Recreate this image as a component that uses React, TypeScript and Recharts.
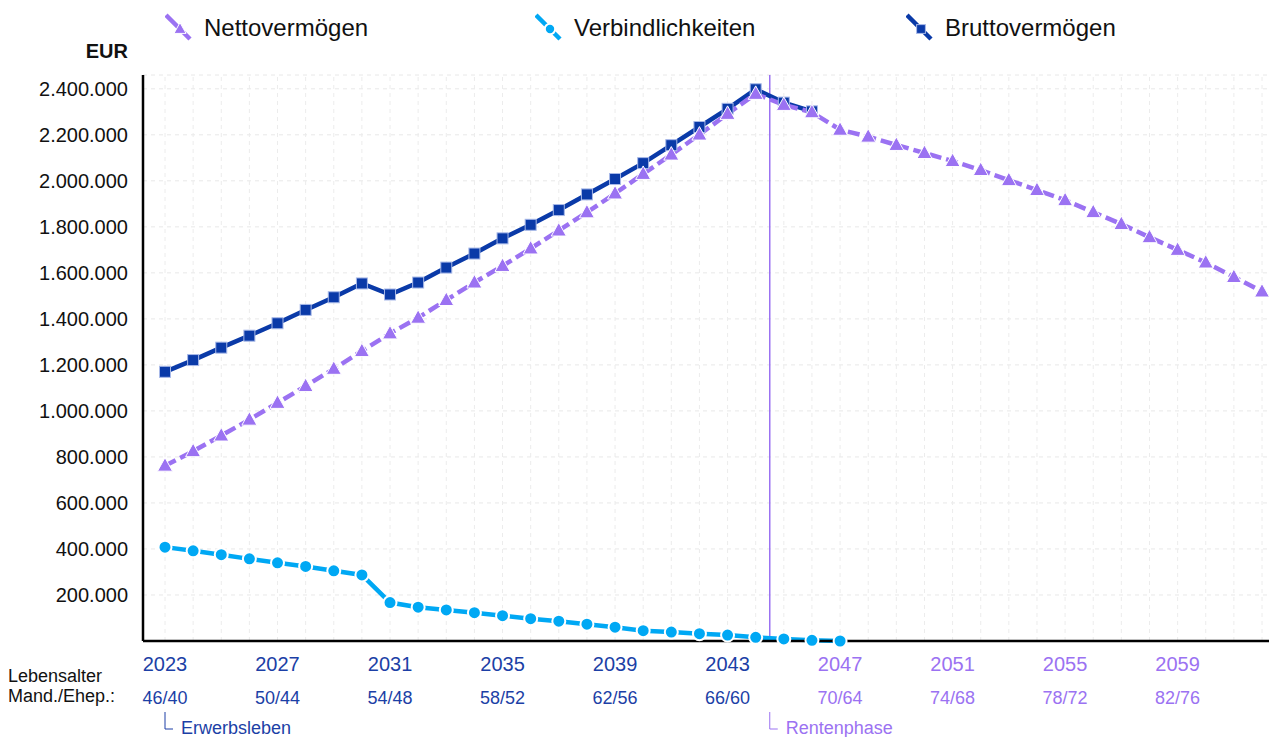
import React from "react";
import { CartesianGrid, Line, LineChart, ReferenceLine, XAxis, YAxis } from "recharts";

const years = [
  2023, 2024, 2025, 2026, 2027, 2028, 2029, 2030, 2031, 2032, 2033, 2034, 2035, 2036, 2037, 2038, 2039, 2040, 2041, 2042,
  2043, 2044, 2045, 2046, 2047, 2048, 2049, 2050, 2051, 2052, 2053, 2054, 2055, 2056, 2057, 2058, 2059, 2060, 2061, 2062,
];

// Werte in Tsd. EUR
const netto = [
  762, 825, 893, 962, 1035, 1108, 1183, 1260, 1337, 1405, 1482, 1558, 1630, 1706, 1784, 1863, 1945, 2030, 2114, 2201,
  2291, 2378, 2330, 2298, 2222, 2192, 2156, 2121, 2086, 2047, 2003, 1960, 1916, 1864, 1812, 1755, 1700, 1645, 1582, 1519,
];

const verbindlichkeiten = [
  408, 392, 375, 357, 340, 324, 305, 287, 167, 147, 135, 123, 110, 97, 86, 73, 60, 45, 39, 32, 26, 16, 9, 3, 0,
];

const brutto = [
  1170, 1221, 1275, 1327, 1381, 1439, 1494, 1554, 1506, 1558, 1623, 1684, 1750, 1809, 1873, 1941, 2008, 2077, 2155, 2234,
  2313, 2398, 2340, 2302,
];

const tickYears = [2023, 2027, 2031, 2035, 2039, 2043, 2047, 2051, 2055, 2059];
const ageLabels = ["46/40", "50/44", "54/48", "58/52", "62/56", "66/60", "70/64", "74/68", "78/72", "82/76"];
const yTicks = [200000, 400000, 600000, 800000, 1000000, 1200000, 1400000, 1600000, 1800000, 2000000, 2200000, 2400000];
const rentenBeginn = 2044.5;

const BLUE = "#0a3aa8";
const TEXT_BLUE = "#1c3fa6";
const PURPLE = "#9b72f2";
const CYAN = "#00a8f4";
const FONT = "'Liberation Sans', Arial, sans-serif";

const data = years.map((year, i) => ({
  year,
  netto: netto[i] * 1000,
  verb: verbindlichkeiten[i] != null ? verbindlichkeiten[i] * 1000 : null,
  brutto: brutto[i] != null ? brutto[i] * 1000 : null,
}));

const fmt = (v: number) => String(v).replace(/\B(?=(\d{3})+(?!\d))/g, ".");

const Triangle = ({ cx, cy, s = 1 }: any) => (
  <polygon
    points={`${cx},${cy - 8 * s} ${cx - 7.5 * s},${cy + 5.5 * s} ${cx + 7.5 * s},${cy + 5.5 * s}`}
    fill={PURPLE}
    stroke="#fff"
    strokeWidth={1}
  />
);

const Square = ({ cx, cy, s = 1 }: any) => (
  <rect x={cx - 5.5 * s} y={cy - 5.5 * s} width={11 * s} height={11 * s} fill={BLUE} stroke="#a8b9e8" strokeWidth={1} />
);

const Dot = ({ cx, cy, s = 1 }: any) => <circle cx={cx} cy={cy} r={6.5 * s} fill={CYAN} stroke="#fff" strokeWidth={2} />;

const makeDot = (Shape: any) => (props: any) => {
  const { cx, cy, index, value } = props;
  if (cy == null || value == null) return <g key={index} />;
  return <Shape key={index} cx={cx} cy={cy} />;
};

const XTick = ({ x, y, payload }: any) => {
  const i = tickYears.indexOf(payload.value);
  const color = payload.value < rentenBeginn ? TEXT_BLUE : PURPLE;
  return (
    <g>
      <text x={x} y={y + 30} textAnchor="middle" fill={color} fontSize={20} fontFamily={FONT}>
        {payload.value}
      </text>
      <text x={x} y={y + 63} textAnchor="middle" fill={color} fontSize={18} fontFamily={FONT}>
        {ageLabels[i]}
      </text>
    </g>
  );
};

const phaseLabel = (text: string, color: string) => (props: any) => {
  const x = props.viewBox.x;
  return (
    <g>
      <polyline points={`${x},712 ${x},729 ${x + 8},729`} fill="none" stroke={color} strokeWidth={1} />
      <text x={x + 16} y={734} fill={color} fontSize={18} fontFamily={FONT}>
        {text}
      </text>
    </g>
  );
};

const legendItems = [
  { name: "Nettovermögen", color: PURPLE, shape: Triangle, left: 165 },
  { name: "Verbindlichkeiten", color: CYAN, shape: Dot, left: 535 },
  { name: "Bruttovermögen", color: BLUE, shape: Square, left: 906 },
];

export default function App() {
  return (
    <div style={{ position: "relative", width: 1269, height: 737, fontFamily: FONT }}>
      <style>{"body{margin:0}"}</style>
      {legendItems.map((it) => (
        <div key={it.name} style={{ position: "absolute", left: it.left, top: 12, height: 32 }}>
          <svg width={30} height={32} style={{ position: "absolute", left: 0, top: 0 }}>
            <line x1={1} y1={3} x2={25} y2={27} stroke={it.color} strokeWidth={4.5} />
            <it.shape cx={15} cy={17} s={0.8} />
          </svg>
          <span style={{ position: "absolute", left: 39, top: 2, fontSize: 24, whiteSpace: "nowrap", color: "#111" }}>
            {it.name}
          </span>
        </div>
      ))}
      <div style={{ position: "absolute", right: 1269 - 128, top: 40, fontSize: 20, fontWeight: "bold", color: "#111" }}>
        EUR
      </div>
      <div style={{ position: "absolute", left: 8, top: 666, fontSize: 18, color: "#111", lineHeight: "20px" }}>
        Lebensalter
        <br />
        Mand./Ehep.:
      </div>
      <LineChart width={1269} height={737} data={data} margin={{ top: 75, right: 0, bottom: 0, left: 0 }}>
        <CartesianGrid vertical={false} stroke="#e8e8e8" strokeDasharray="4 4" />
        {years.map((yr) => (
          <ReferenceLine key={yr} x={yr} stroke="#ececec" strokeDasharray="4 4" />
        ))}
        <ReferenceLine x={2023} stroke="none" label={phaseLabel("Erwerbsleben", TEXT_BLUE)} />
        <XAxis
          dataKey="year"
          type="number"
          domain={[2023, 2062]}
          ticks={tickYears}
          interval={0}
          padding={{ left: 22, right: 7 }}
          axisLine={{ stroke: "#000", strokeWidth: 2.5 }}
          tickLine={false}
          tickSize={0}
          tickMargin={0}
          height={96}
          tick={<XTick />}
        />
        <YAxis
          type="number"
          domain={[0, 2460000]}
          ticks={yTicks}
          interval={0}
          width={143}
          axisLine={{ stroke: "#000", strokeWidth: 2.5 }}
          tickLine={false}
          tickSize={7}
          tickMargin={8}
          tickFormatter={fmt}
          tick={{ fontSize: 20, fill: "#111", fontFamily: FONT }}
        />
        <ReferenceLine
          x={rentenBeginn}
          stroke={PURPLE}
          strokeWidth={1.5}
          label={phaseLabel("Rentenphase", PURPLE)}
        />
        <Line dataKey="verb" stroke={CYAN} strokeWidth={4.5} dot={makeDot(Dot)} isAnimationActive={false} />
        <Line dataKey="brutto" stroke={BLUE} strokeWidth={4.5} dot={makeDot(Square)} isAnimationActive={false} />
        <Line
          dataKey="netto"
          stroke={PURPLE}
          strokeWidth={4.5}
          strokeDasharray="12 5"
          dot={makeDot(Triangle)}
          isAnimationActive={false}
        />
      </LineChart>
    </div>
  );
}
